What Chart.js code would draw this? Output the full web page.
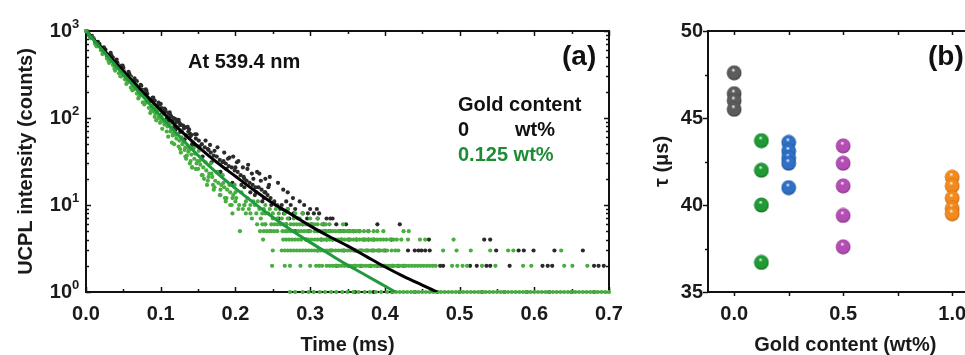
<!DOCTYPE html>
<html>
<head>
<meta charset="utf-8">
<script src="https://cdn.jsdelivr.net/npm/chart.js@4.4.1/dist/chart.umd.min.js"></script>
<style>
html,body{margin:0;padding:0;width:965px;height:355px;overflow:hidden;background:#fff;}
#ca{position:absolute;left:0;top:0;}
#cb{position:absolute;left:620px;top:0;}
</style>
</head>
<body>
<canvas id="ca" width="640" height="355"></canvas>
<canvas id="cb" width="380" height="355"></canvas>
<script>
// ---------- Panel (a): decay curves ----------
const timeMain = [0,0.004,0.008,0.012,0.016,0.02,0.024,0.028,0.032,0.036,0.04,0.044,0.048,0.052,0.056,0.06,0.064,0.068,0.072,0.076,0.08,0.084,0.088,0.092,0.096,0.1,0.104,0.108,0.112,0.116,0.12,0.124,0.128,0.132,0.136,0.14,0.144,0.148,0.152,0.156,0.16,0.164,0.168,0.172,0.176,0.18,0.184,0.188,0.192,0.196,0.2,0.204,0.208,0.212,0.216,0.22,0.224,0.228,0.232,0.236,0.24,0.244,0.248];
const timeHalf = [0.002,0.006,0.01,0.014,0.018,0.022,0.026,0.03,0.034,0.038,0.042,0.046,0.05,0.054,0.058,0.062,0.066,0.07,0.074,0.078,0.082,0.086,0.09,0.094,0.098,0.102,0.106,0.11,0.114,0.118,0.122,0.126,0.13,0.134,0.138,0.142,0.146,0.15];

const blackCountsMain = [1000,901,878,753,749,648,649,524,523,495,412,402,398,312,308,301,250,265,207,210,214,158,158,159,122,145,117,98,116,93,74,95,70,57,79,62,47,65,47,36,55,43,31,42,46,24,32,26,35,18,27,32,17,20,26,14,20,14,23,11,14,16,10];
const blackCountsHalf = [988,846,826,722,711,597,611,514,526,421,432,367,378,302,322,250,267,220,235,180,190,157,172,129,142,112,125,91,104,79,95,69,82,63,74,50,65,47];
const blackOutT = [0.126,0.139,0.166,0.19,0.202,0.217,0.229,0.24,0.257,0.264,0.277,0.246,0.27,
  0.101,0.107,0.111,0.117,0.121,0.127,0.131,0.137,0.141,0.147,0.151,0.155,0.159,0.163,0.167,0.171,0.175,0.179,0.183,0.187,0.191,0.195,0.199,0.203,0.207,0.211,0.215,0.219,0.223,0.227,0.231,0.235,0.239,0.243,0.247,0.185,0.197,0.21,0.222,0.234,0.245,0.212,0.226,0.238,
  0.033,0.041,0.049,0.057,0.065,0.073,0.081,0.089,0.097,0.105,0.113,0.119,0.125,0.133];
const blackOutC = [83,66,49,34,31,29,24,20,18,15,12,21,14,
  130,118,112,100,90,84,76,70,64,58,55,50,46,44,40,37,36,33,31,30,28,27,25,24,22,21,19,18,17,16,16,15,14,13,12,40,36,27,23,19,17,16,13,12,
  560,470,400,340,285,240,205,170,150,128,108,98,88,78];
const blackRowCounts = [11,10,9,8,7,6,5,4,3,2,1];
const blackRowTimes = [
  [0.252,0.268,0.286],
  [0.256,0.262,0.274,0.292],
  [0.26,0.27,0.28,0.3,0.309],
  [0.265,0.278,0.29,0.297,0.305,0.312],
  [0.258,0.272,0.284,0.296,0.31,0.322,0.327,0.33],
  [0.268,0.29,0.302,0.318,0.335,0.348,0.39,0.42],
  [0.28,0.298,0.31,0.326,0.34,0.345,0.352,0.366,0.378,0.32,0.358],
  [0.295,0.315,0.33,0.342,0.352,0.362,0.372,0.385,0.409,0.459,0.533,0.541,0.322,0.378],
  [0.31,0.328,0.345,0.36,0.376,0.392,0.431,0.44,0.445,0.449,0.454,0.46,0.549,0.579,0.586,0.599,0.627,0.665,0.368,0.384,0.4],
  [0.335,0.352,0.368,0.381,0.395,0.41,0.425,0.474,0.478,0.514,0.523,0.536,0.541,0.567,0.611,0.618,0.624,0.68,0.686,0.693,0.36,0.39,0.4,0.418],
  [0.36,0.385,0.41,0.44,0.47,0.5,0.53,0.56,0.59,0.62,0.65,0.68]
];

const greenCountsMain = [1000,885,849,713,713,599,569,483,498,406,390,327,348,278,269,223,241,191,185,151,173,131,129,103,121,90,92,70,85,63,64,47,60,43,46,32,45,30,32,22,31,21,23,16,24,15,18,12,17,12,14,9,14,10,12,8,11,8,9,8,6,8,5];
const greenCountsHalf = [965,827,819,667,661,543,561,456,452,367,384,302,310,246,265,208,218,168,190,143,151,114,130,94,105,75,92,61,75,50,65,44,53,34,43,27,39,26];
const greenOutT = [0.135,0.142,0.162,0.17,0.158,0.18,0.186,0.193,
  0.091,0.097,0.101,0.105,0.109,0.113,0.117,0.121,0.125,0.129,0.133,0.137,0.141,0.145,0.149,0.153,0.157,0.161,0.165,0.169,0.173,0.177,0.181,0.185,0.189,0.193,0.197,0.201,0.115,0.127,0.139,0.147,0.155,0.163,0.171,0.179,0.187,0.195,0.133,0.151,0.167,0.183,0.199,
  0.031,0.035,0.039,0.043,0.047,0.051,0.055,0.059,0.063,0.067,0.071,0.075,0.079,0.083,0.087,0.089,0.093,0.095,0.099,0.103];
const greenOutC = [37,27,17,17,20,13,12,10,
  118,100,96,84,80,70,66,58,55,50,46,41,38,34,32,29,27,25,23,21,19,18,17,16,15,14,13,12,52,40,30,26,22,19,15,13,11,10,36,42,30,22,17,
  430,470,350,405,300,345,255,290,210,245,175,205,150,170,120,140,112,130,88,110];
const greenRowCounts = [11,10,9,8,7,6,5,4,3,2,1];
const greenRowTimes = [
  [0.2,0.214,0.23],
  [0.205,0.212,0.22,0.226,0.24,0.255],
  [0.21,0.218,0.238,0.246,0.254,0.262,0.27],
  [0.196,0.214,0.24,0.25,0.258,0.266,0.28,0.29],
  [0.222,0.234,0.25,0.256,0.262,0.27,0.278,0.286,0.3,0.31],
  [0.229,0.236,0.252,0.26,0.268,0.274,0.282,0.29,0.298,0.306,0.316,0.326,0.344,0.24,0.248,0.256,0.264,0.278,0.286,0.294,0.302,0.31,0.321],
  [0.206,0.233,0.242,0.256,0.263,0.27,0.278,0.284,0.292,0.3,0.306,0.314,0.322,0.33,0.338,0.35,0.358,0.372,0.385,0.398,0.425,0.432,0.238,0.246,0.252,0.267,0.274,0.288,0.296,0.31,0.318,0.326,0.334,0.342,0.346,0.354,0.362,0.366,0.378,0.39],
  [0.237,0.264,0.272,0.28,0.288,0.294,0.302,0.31,0.318,0.326,0.334,0.342,0.35,0.358,0.366,0.374,0.382,0.39,0.398,0.407,0.416,0.422,0.431,0.447,0.454,0.492,0.268,0.276,0.284,0.298,0.306,0.314,0.322,0.33,0.338,0.346,0.354,0.362,0.37,0.378,0.386,0.394,0.402,0.412],
  [0.25,0.262,0.27,0.278,0.286,0.294,0.302,0.31,0.318,0.326,0.334,0.342,0.35,0.358,0.366,0.374,0.382,0.39,0.398,0.409,0.414,0.418,0.478,0.496,0.515,0.541,0.565,0.572,0.636,0.266,0.274,0.282,0.29,0.298,0.306,0.314,0.322,0.33,0.338,0.346,0.354,0.362,0.37,0.378,0.386,0.394,0.403],
  [0.249,0.266,0.273,0.287,0.3,0.308,0.316,0.322,0.33,0.338,0.346,0.354,0.362,0.37,0.378,0.386,0.394,0.402,0.409,0.416,0.424,0.432,0.44,0.448,0.456,0.464,0.49,0.497,0.504,0.51,0.53,0.548,0.585,0.596,0.64,0.651,0.671,0.312,0.326,0.334,0.342,0.35,0.358,0.366,0.374,0.382,0.39,0.398,0.405,0.412,0.42,0.428,0.436,0.444,0.452,0.46,0.468],
  [0.273,0.29,0.305,0.32,0.335,0.35,0.365,0.38,0.395,0.41,0.42,0.43,0.44,0.45,0.46,0.47,0.48,0.49,0.5,0.51,0.52,0.53,0.54,0.55,0.56,0.57,0.58,0.59,0.6,0.61,0.62,0.63,0.64,0.65,0.66,0.67,0.68,0.69,0.7,
   0.28,0.298,0.313,0.328,0.343,0.358,0.373,0.388,0.403,0.415,0.425,0.435,0.445,0.455,0.465,0.475,0.485,0.495,0.505,0.515,0.525,0.535,0.545,0.555,0.565,0.575,0.585,0.595,0.605,0.615,0.625,0.635,0.645,0.655,0.665,0.675,0.685,0.695]
];

const blackFitT = [0,0.025,0.05,0.075,0.1,0.125,0.15,0.175,0.2,0.225,0.25,0.275,0.3,0.325,0.35,0.375,0.4,0.425,0.45,0.47];
const blackFitC = [1000,589,347,204,123,74,47,31,21.4,14.8,10.5,7.8,5.75,4.37,3.39,2.57,1.95,1.51,1.2,1.0];
const greenFitT = [0,0.025,0.05,0.075,0.1,0.125,0.15,0.175,0.2,0.225,0.25,0.275,0.3,0.325,0.35,0.375,0.4,0.414];
const greenFitC = [1000,562,316,182,105,61.7,37.2,23.4,15.5,10.5,7.24,5.13,3.72,2.75,2.04,1.55,1.17,1.0];

const xTickLabelsA = ['0.0','0.1','0.2','0.3','0.4','0.5','0.6','0.7'];
const yTickValuesA = [1,10,100,1000];
const yTickExponentsA = ['0','1','2','3'];

// ---------- Panel (b): lifetimes ----------
const goldContent = [0, 0.125, 0.25, 0.5, 1.0];
const tauGray = [47.6, 46.4, 46.0, 45.5];
const tauGreen = [43.7, 42.0, 40.0, 36.7];
const tauBlue = [43.6, 43.1, 42.7, 42.4, 41.0];
const tauMagenta = [43.4, 42.4, 41.1, 39.4, 37.6];
const tauOrange = [41.6, 41.1, 40.4, 39.8, 39.5];
const xTickValuesB = [0, 0.5, 1.0];
const yTickValuesB = [35, 40, 45, 50];

// ---------- helpers ----------
const FONT = 'Arial, "Liberation Sans", sans-serif';
Chart.defaults.font.family = FONT;
Chart.defaults.color = '#111';

function pairs(T, C){ return T.map((t,i)=>({x:t, y:C[i]})); }
function rows(counts, times){ const out=[]; counts.forEach((c,i)=>times[i].forEach(t=>out.push({x:t, y:c}))); return out; }

const blackDots = [].concat(pairs(timeMain, blackCountsMain), pairs(timeHalf, blackCountsHalf), pairs(blackOutT, blackOutC), rows(blackRowCounts, blackRowTimes));
const greenDots = [].concat(pairs(timeMain, greenCountsMain), pairs(timeHalf, greenCountsHalf), pairs(greenOutT, greenOutC), rows(greenRowCounts, greenRowTimes));

const frameA = {
  id: 'frameA',
  beforeDatasetsDraw(chart){
    const {ctx, chartArea:a, scales:{x, y}} = chart;
    ctx.save();
    ctx.strokeStyle = '#111';
    ctx.lineWidth = 2;
    ctx.strokeRect(a.left, a.top, a.right - a.left, a.bottom - a.top);
    ctx.lineWidth = 1.5;
    ctx.beginPath();
    for (let k = 0; k <= 14; k++) {
      const px = Math.round(x.getPixelForValue(k * 0.05)) + 0.5;
      const L = k % 2 === 0 ? 5 : 3;
      ctx.moveTo(px, a.bottom); ctx.lineTo(px, a.bottom - L);
      ctx.moveTo(px, a.top); ctx.lineTo(px, a.top + L);
    }
    for (let d = 1; d <= 1000; d *= 10) {
      for (let m = 1; m < 10; m++) {
        const v = d * m; if (v > 1000) break;
        const py = Math.round(y.getPixelForValue(v)) + 0.5;
        const L = m === 1 ? 5 : 3;
        ctx.moveTo(a.left, py); ctx.lineTo(a.left + L, py);
        ctx.moveTo(a.right, py); ctx.lineTo(a.right - L, py);
      }
    }
    ctx.stroke();
    // superscript exponents of the log tick labels, placed from the scale's ticks
    ctx.fillStyle = '#1a1a1a';
    ctx.textBaseline = 'alphabetic';
    ctx.textAlign = 'left';
    ctx.font = 'bold 13px ' + FONT;
    y.ticks.forEach((t, i) => {
      const py = y.getPixelForValue(t.value);
      ctx.fillText(yTickExponentsA[i], a.left - 14, py - 3);
    });
    ctx.restore();
  },
  afterDraw(chart){
    const ctx = chart.ctx;
    ctx.save();
    ctx.textBaseline = 'middle';
    ctx.fillStyle = '#111';
    ctx.font = 'bold 20px ' + FONT;
    ctx.textAlign = 'left';
    ctx.fillText('At 539.4 nm', 188, 62);
    ctx.fillText('Gold content', 458, 105);
    ctx.fillText('0', 458, 130);
    ctx.textAlign = 'right';
    ctx.fillText('wt%', 555, 130);
    ctx.textAlign = 'left';
    ctx.fillStyle = '#1e8c35';
    ctx.fillText('0.125 wt%', 458, 155);
    ctx.fillStyle = '#111';
    ctx.font = 'bold 28px ' + FONT;
    ctx.fillText('(a)', 562, 57);
    ctx.restore();
  }
};

new Chart(document.getElementById('ca'), {
  type: 'scatter',
  data: {
    datasets: [
      {label:'0.125 wt% fit', data: pairs(greenFitT, greenFitC), showLine:true, borderColor:'#1f9a3c', borderWidth:3, pointRadius:0, cubicInterpolationMode:'monotone', order:0},
      {label:'0 wt% fit', data: pairs(blackFitT, blackFitC), showLine:true, borderColor:'#000', borderWidth:3, pointRadius:0, cubicInterpolationMode:'monotone', order:1},
      {label:'0.125 wt%', data: greenDots, backgroundColor:'#48ae40', borderWidth:0, pointRadius:2.1, clip:false, order:2},
      {label:'0 wt%', data: blackDots, backgroundColor:'#2a2a2a', borderWidth:0, pointRadius:2.1, clip:false, order:3}
    ]
  },
  options: {
    responsive:false, animation:false, devicePixelRatio:1,
    layout:{padding:{top:31, right:31, left:0, bottom:0}},
    plugins:{legend:{display:false}, tooltip:{enabled:false}},
    scales:{
      x:{
        type:'linear', min:0, max:0.7,
        afterFit(s){ s.height = 63; },
        grid:{display:false, drawTicks:false}, border:{display:false},
        ticks:{stepSize:0.1, padding:10, maxRotation:0, autoSkip:false, color:'#1a1a1a',
               font:{size:20, weight:'bold'}, callback:(v,i)=>xTickLabelsA[i]},
        title:{display:true, text:'Time (ms)', color:'#1a1a1a', font:{size:20, weight:'bold', lineHeight:1}, padding:{top:0,bottom:0}}
      },
      y:{
        type:'logarithmic', min:1, max:1000,
        afterFit(s){ s.width = 86; },
        afterBuildTicks(s){ s.ticks = yTickValuesA.map(v=>({value:v, major:true})); },
        grid:{display:false, drawTicks:false}, border:{display:false},
        ticks:{padding:14, autoSkip:false, color:'#1a1a1a', font:{size:20, weight:'bold'}, callback:()=>'10'},
        title:{display:true, text:'UCPL intensity (counts)', color:'#1a1a1a', font:{size:20, weight:'bold', lineHeight:1}, padding:{top:16,bottom:0}}
      }
    }
  },
  plugins:[frameA]
});

// ---------- Panel (b) ----------
function ball(color, dark){
  const c = document.createElement('canvas');
  c.width = 16; c.height = 16;
  const g = c.getContext('2d');
  const grd = g.createRadialGradient(7, 5, 0.3, 8, 8, 8);
  grd.addColorStop(0, '#ffffff');
  grd.addColorStop(0.22, color);
  grd.addColorStop(0.75, color);
  grd.addColorStop(1, dark);
  g.fillStyle = grd;
  g.beginPath(); g.arc(8, 8, 7.4, 0, Math.PI * 2); g.fill();
  return c;
}

const frameB = {
  id: 'frameB',
  beforeDatasetsDraw(chart){
    const {ctx, chartArea:a, scales:{x, y}} = chart;
    ctx.save();
    ctx.strokeStyle = '#111';
    ctx.lineWidth = 2;
    ctx.strokeRect(a.left, a.top, a.right - a.left, a.bottom - a.top);
    ctx.lineWidth = 1.5;
    ctx.beginPath();
    for (let k = 0; k <= 4; k++) {
      const px = Math.round(x.getPixelForValue(k * 0.25)) + 0.5;
      ctx.moveTo(px, a.top); ctx.lineTo(px, a.top + 4);
      ctx.moveTo(px, a.bottom); ctx.lineTo(px, a.bottom + 4);
    }
    for (let k = 0; k <= 6; k++) {
      const v = 35 + k * 2.5;
      const py = Math.round(y.getPixelForValue(v)) + 0.5;
      const L = k % 2 === 0 ? 5 : 3;
      ctx.moveTo(a.left, py); ctx.lineTo(a.left - L, py);
    }
    ctx.stroke();
    ctx.restore();
  },
  afterDraw(chart){
    const ctx = chart.ctx;
    ctx.save();
    ctx.textBaseline = 'middle';
    ctx.textAlign = 'left';
    ctx.fillStyle = '#111';
    ctx.font = 'bold 28px ' + FONT;
    ctx.fillText('(b)', 308, 57);
    ctx.restore();
  }
};

function series(xv, ys, img){
  return {data: ys.map(v=>({x:xv, y:v})), pointStyle: img, pointRadius:7, clip:false};
}

new Chart(document.getElementById('cb'), {
  type: 'scatter',
  data: {
    datasets: [
      series(goldContent[0], tauGray, ball('#5c5c5c', '#2e2e2e')),
      series(goldContent[1], tauGreen, ball('#1f9a34', '#0c5a1a')),
      series(goldContent[2], tauBlue, ball('#2f6fc6', '#173f7a')),
      series(goldContent[3], tauMagenta, ball('#b54db5', '#6e256e')),
      series(goldContent[4], tauOrange, ball('#f28a1c', '#a85108'))
    ]
  },
  options: {
    responsive:false, animation:false, devicePixelRatio:1,
    layout:{padding:{top:31, right:17.3, left:0, bottom:0}},
    plugins:{legend:{display:false}, tooltip:{enabled:false}},
    scales:{
      x:{
        type:'linear', min:-0.12, max:1.14,
        afterFit(s){ s.height = 63; },
        afterBuildTicks(s){ s.ticks = xTickValuesB.map(v=>({value:v})); },
        grid:{display:false, drawTicks:false}, border:{display:false},
        ticks:{padding:10, maxRotation:0, autoSkip:false, color:'#1a1a1a', font:{size:20, weight:'bold'}, callback:(v)=>v.toFixed(1)},
        title:{display:true, text:'Gold content (wt%)', color:'#1a1a1a', font:{size:20, weight:'bold', lineHeight:1}, padding:{top:0,bottom:0}}
      },
      y:{
        type:'linear', min:35, max:50,
        afterFit(s){ s.width = 88; },
        afterBuildTicks(s){ s.ticks = yTickValuesB.map(v=>({value:v})); },
        grid:{display:false, drawTicks:false}, border:{display:false},
        ticks:{padding:5, autoSkip:false, color:'#1a1a1a', font:{size:20, weight:'bold'}},
        title:{display:true, text:'\u03C4 (\u03BCs)', color:'#1a1a1a', font:{size:20, weight:'bold', lineHeight:1}, padding:{top:32,bottom:0}}
      }
    }
  },
  plugins:[frameB]
});
</script>
</body>
</html>
